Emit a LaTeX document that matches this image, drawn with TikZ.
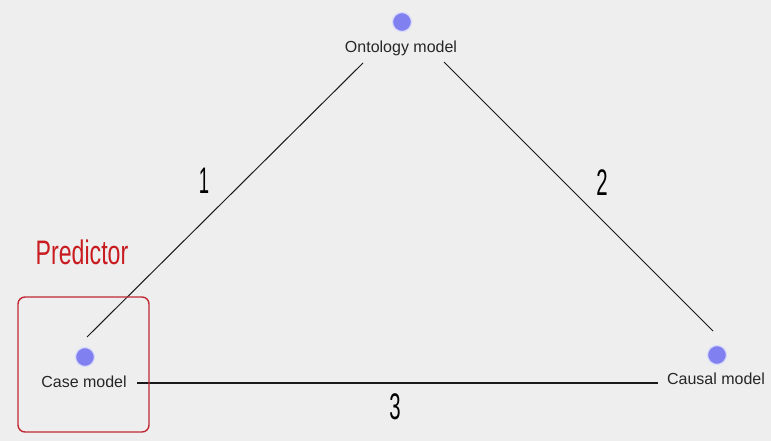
\documentclass[tikz,border=0pt]{standalone}
\usepackage{fontspec}
\setmainfont{Liberation Sans}
\definecolor{bg}{RGB}{238,238,238}
\definecolor{dotblue}{RGB}{128,128,240}
\definecolor{boxred}{RGB}{192,40,52}
\definecolor{txtred}{RGB}{200,28,32}
\begin{document}
\begin{tikzpicture}[x=1pt,y=-1pt,
  dot/.style={circle,fill=dotblue,draw=dotblue!30!white,line width=1.2pt,minimum size=19pt,inner sep=0pt},
  lbl/.style={font=\fontsize{16}{18}\selectfont,text=black!85,inner sep=0pt,anchor=center},
  edge/.style={line width=1pt,black!90},
  num/.style={font=\fontsize{37}{40}\selectfont,inner sep=0pt,anchor=center}]
\fill[bg] (0,0) rectangle (771,441);
\useasboundingbox (0,0) rectangle (771,441);
% nodes
\node[dot] (od) at (402,22) {};
\node[lbl] (ol) at (401,48) {Ontology model};
\node[dot] (cd) at (85,357) {};
\node[lbl] (cl) at (84,382) {Case model};
\node[dot] (kd) at (717,355) {};
\node[lbl] (kl) at (716,379) {Causal model};
% connector ends
\coordinate (o1) at (363,63);
\coordinate (c1) at (87,337);
\coordinate (o2) at (444,62);
\coordinate (k2) at (713,331);
\coordinate (c3) at (137,383);
\coordinate (k3) at (658,383);
\draw[edge] (o1) -- (c1);
\draw[edge] (o2) -- (k2);
\draw[edge,line width=1.7pt] (c3) -- (k3);
% numbers
\node[num] (n1) at (204,181) {\scalebox{0.5}[1]{1}};
\node[num] (n2) at (602,183) {\scalebox{0.55}[1]{2}};
\node[num] (n3) at (395,407) {\scalebox{0.55}[1]{3}};
% predictor
\draw[boxred,line width=1.4pt,rounded corners=7pt] (18,297) rectangle (149,432);
\node[font=\fontsize{34}{36}\selectfont,text=txtred,inner sep=0pt,anchor=center] (pred) at (82,252) {\scalebox{0.68}[1]{Predictor}};
\end{tikzpicture}
\end{document}
